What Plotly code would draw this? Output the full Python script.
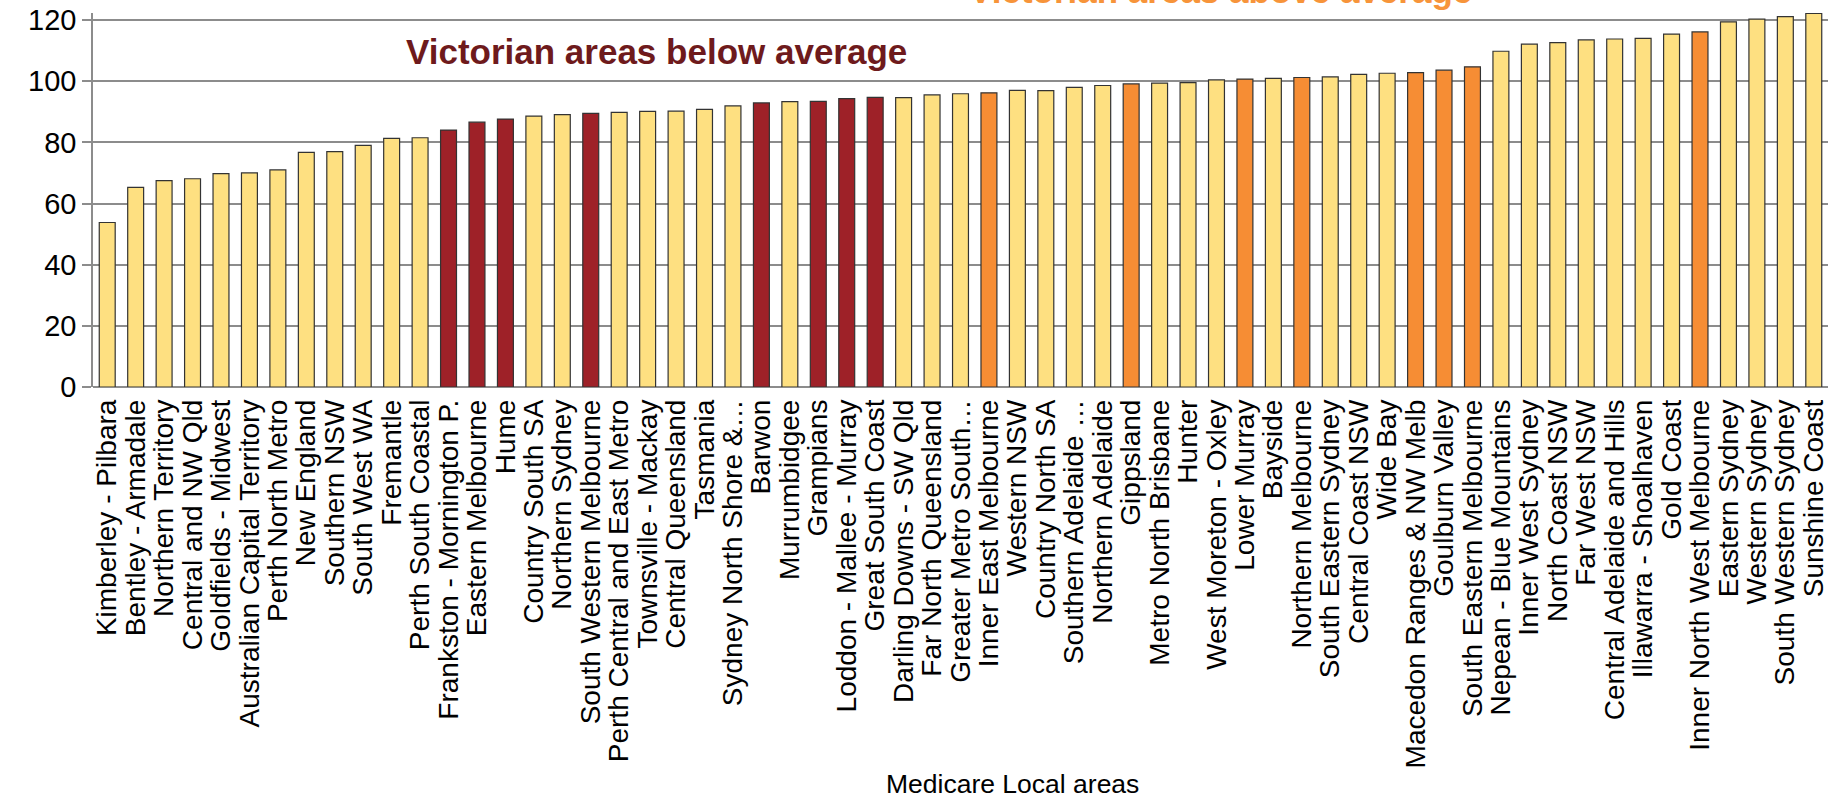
import plotly.graph_objects as go

areas = [
    "Kimberley - Pilbara", "Bentley - Armadale", "Northern Territory", "Central and NW Qld",
    "Goldfields - Midwest", "Australian Capital Territory", "Perth North Metro", "New England",
    "Southern NSW", "South West WA", "Fremantle", "Perth South Coastal",
    "Frankston - Mornington P.", "Eastern Melbourne", "Hume", "Country South SA",
    "Northern Sydney", "South Western Melbourne", "Perth Central and East Metro", "Townsville - Mackay",
    "Central Queensland", "Tasmania", "Sydney North Shore &…", "Barwon",
    "Murrumbidgee", "Grampians", "Loddon - Mallee - Murray", "Great South Coast",
    "Darling Downs - SW Qld", "Far North Queensland", "Greater Metro South…", "Inner East Melbourne",
    "Western NSW", "Country North SA", "Southern Adelaide …", "Northern Adelaide",
    "Gippsland", "Metro North Brisbane", "Hunter", "West Moreton - Oxley",
    "Lower Murray", "Bayside", "Northern Melbourne", "South Eastern Sydney",
    "Central Coast NSW", "Wide Bay", "Macedon Ranges & NW Melb", "Goulburn Valley",
    "South Eastern Melbourne", "Nepean - Blue Mountains", "Inner West Sydney", "North Coast NSW",
    "Far West NSW", "Central Adelaide and Hills", "Illawarra - Shoalhaven", "Gold Coast",
    "Inner North West Melbourne", "Eastern Sydney", "Western Sydney", "South Western Sydney",
    "Sunshine Coast",
]

values = [
    53.8, 65.3, 67.5, 68.1, 69.8, 70.0, 71.0, 76.7,
    77.0, 79.0, 81.3, 81.5, 84.0, 86.6, 87.6, 88.6,
    89.1, 89.5, 89.8, 90.1, 90.2, 90.8, 91.9, 92.9,
    93.3, 93.4, 94.3, 94.7, 94.6, 95.5, 95.9, 96.2,
    97.0, 96.9, 98.0, 98.6, 99.1, 99.4, 99.5, 100.4,
    100.7, 100.9, 101.2, 101.4, 102.2, 102.6, 102.8, 103.6,
    104.7, 109.8, 112.1, 112.6, 113.5, 113.8, 114.0, 115.4,
    116.1, 119.4, 120.3, 121.1, 122.2,
]

# group of each area: O = other, B = Victorian below average, A = Victorian above average
groups = list(
    "OOOOOOOOOOOO"
    "BBBOOBOOOOOB"
    "OBBBOOOA"
    "OOOOAOOO"
    "AOAOOOAA"
    "AOOOOOOOA"
    "OOOO"
)

y_ticks = [0, 20, 40, 60, 80, 100, 120]
x_title = "Medicare Local areas"
label_below = "Victorian areas below average"
label_above = "Victorian areas above average"

group_colors = {"O": "#FEE081", "B": "#9E2128", "A": "#F68D34"}
bar_colors = [group_colors[g] for g in groups]

FONT = "Liberation Sans, Arial, sans-serif"

fig = go.Figure(
    go.Bar(
        x=areas,
        y=values,
        marker=dict(color=bar_colors, line=dict(color="#333333", width=1.2)),
        showlegend=False,
    )
)

fig.update_layout(
    width=1836,
    height=802,
    margin=dict(l=93, r=8, t=13, b=415),
    paper_bgcolor="white",
    plot_bgcolor="white",
    bargap=0.44,
    font=dict(family=FONT, color="black"),
)

fig.update_xaxes(
    type="category",
    categoryorder="array",
    categoryarray=areas,
    tickmode="linear",
    tick0=0,
    dtick=1,
    tickangle=-90,
    tickfont=dict(size=28, family=FONT, color="black"),
    ticks="",
    ticklabelstandoff=6,
    showline=False,
    showgrid=False,
    automargin=False,
)

fig.update_yaxes(
    range=[0, 122.3],
    tickvals=y_ticks,
    tickfont=dict(size=29, family=FONT, color="black"),
    ticks="outside",
    ticklen=9,
    tickcolor="#8c8c8c",
    tickwidth=1.5,
    showline=True,
    linecolor="#8c8c8c",
    linewidth=1.5,
    showgrid=True,
    gridcolor="#8c8c8c",
    gridwidth=1.5,
    zeroline=True,
    zerolinecolor="#8c8c8c",
    zerolinewidth=2,
    automargin=False,
)

fig.add_annotation(
    text=x_title, xref="paper", yref="paper", x=0.530, y=-1.061,
    showarrow=False, font=dict(size=26.5, family=FONT, color="black"),
    xanchor="center", yanchor="middle",
)
fig.add_annotation(
    text="<b>" + label_below + "</b>", xref="paper", yref="paper", x=0.3245, y=0.896,
    showarrow=False, font=dict(size=35, family=FONT, color="#6E1A1C"),
    xanchor="center", yanchor="middle",
)
fig.add_annotation(
    text="<b>" + label_above + "</b>", xref="paper", yref="paper", x=0.650, y=1.003,
    showarrow=False, font=dict(size=35, family=FONT, color="#F7943A"),
    xanchor="center", yanchor="bottom",
)

fig.write_html(
    "out.html",
    config={"displayModeBar": False},
    post_script="document.body.style.margin='0';document.body.style.overflow='hidden';",
)
